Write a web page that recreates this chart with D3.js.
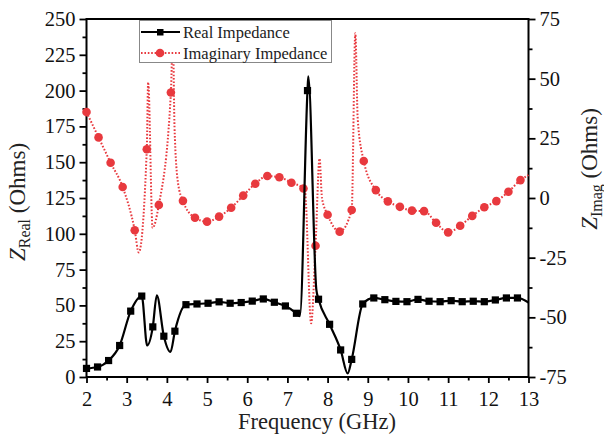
<!DOCTYPE html>
<html>
<head>
<meta charset="utf-8">
<script src="https://cdn.jsdelivr.net/npm/d3@7/dist/d3.min.js"></script>
<style>
  body { margin: 0; background: #fff; }
  svg { display: block; font-family: "Liberation Serif", "Times New Roman", serif; }
</style>
</head>
<body>
<div id="chart"></div>
<script>
// taille du svg et zone de tracé
const width = 604,
    height = 439,
    plot = { left: 86.5, right: 528.5, top: 19, bottom: 377 };

// Real impedance (Ohms) - markers every 0.275 GHz
const realFreq = [2.0, 2.275, 2.55, 2.825, 3.1, 3.375, 3.51, 3.65, 3.75, 3.925, 4.09, 4.2, 4.475, 4.75,
  5.025, 5.3, 5.575, 5.85, 6.125, 6.4, 6.675, 6.95, 7.225, 7.31, 7.5, 7.52, 7.72, 7.775, 8.05, 8.325,
  8.5, 8.6, 8.875, 9.15, 9.425, 9.7, 9.975, 10.25, 10.525, 10.8, 11.075, 11.35, 11.625, 11.9, 12.175,
  12.45, 12.725, 13.0];
const realZ = [6, 7, 11.5, 22, 46, 56.5, 22, 35, 57, 28.5, 17.5, 32, 50.5, 51,
  51.5, 52.5, 51.5, 52, 53, 54.5, 52.2, 49.6, 44.5, 42.5, 200, 210, 61, 54.3, 36.8, 18.9,
  2.5, 12.3, 51, 55.2, 54, 52.8, 52.6, 54.2, 52.9, 52.6, 53.3, 52.6, 52.9, 52.6, 53.8,
  55.2, 55.2, 52];
const realStep = 0.275;

// Imaginary impedance (Ohms) - markers every 0.3 GHz
const imagFreq = [2.0, 2.3, 2.6, 2.9, 3.2, 3.3, 3.5, 3.535, 3.645, 3.8, 4.1, 4.15, 4.19, 4.28, 4.4,
  4.7, 5.0, 5.3, 5.6, 5.9, 6.2, 6.5, 6.8, 7.1, 7.4, 7.44, 7.59, 7.7, 7.8, 7.86, 8.0, 8.3, 8.6,
  8.69, 8.75, 8.9, 9.2, 9.5, 9.8, 10.1, 10.4, 10.7, 11.0, 11.3, 11.6, 11.9, 12.2, 12.5, 12.8, 13.0];
const imagZ = [36, 25.4, 14.8, 4.6, -13.5, -22.8, 20.4, 48.5, -12.5, -2.9, 44.2, 68, 30, 6, -1.2,
  -8.3, -9.9, -7.8, -4.1, 1, 6, 9.2, 8.7, 6.4, 4.0, 2.5, -52.5, -20, 16.5, 0, -7, -14.1, -5,
  69, 33, 15.5, 3.3, -1.4, -3.7, -5.3, -5.5, -10.4, -14.4, -11.6, -7.5, -3.9, -1.3, 2.6, 7.5, 9.6];
const imagStep = 0.3;

const xTicks = d3.range(2, 14, 1);
const leftTicks = d3.range(0, 251, 25);
const rightTicks = d3.range(-75, 76, 25);

const red = "#e8393e";

const svg = d3.select("#chart")
  .append("svg")
  .attr("width", width)
  .attr("height", height);

const x = d3.scaleLinear().domain([2, 13]).range([plot.left, plot.right]);
const yL = d3.scaleLinear().domain([0, 250]).range([plot.bottom, plot.top]);
const yR = d3.scaleLinear().domain([-75, 75]).range([plot.bottom, plot.top]);

const onGrid = (f, step) => {
  const k = (f - 2) / step;
  return Math.abs(k - Math.round(k)) < 1e-6 && f < 13;
};

const realData = realFreq.map((f, i) => ({ f, v: realZ[i] }));
const imagData = imagFreq.map((f, i) => ({ f, v: imagZ[i] }));

// axes
function styleAxis(g) {
  g.select(".domain").remove();
  g.selectAll(".tick line").attr("stroke", "#000").attr("stroke-width", 1.8);
  g.selectAll(".tick text").attr("fill", "#111").style("font-size", "20.5px")
    .style("font-family", "Liberation Serif");
}

svg.append("g")
  .attr("transform", `translate(0,${plot.bottom})`)
  .call(d3.axisBottom(x).tickValues(xTicks).tickSize(6).tickPadding(8).tickFormat(d => String(d)))
  .call(styleAxis);
svg.append("g")
  .attr("transform", `translate(0,${plot.bottom})`)
  .call(d3.axisBottom(x).tickValues(d3.range(2.5, 13, 1)).tickSize(3.5).tickFormat(""))
  .call(styleAxis);

svg.append("g")
  .attr("transform", `translate(${plot.left},0)`)
  .call(d3.axisLeft(yL).tickValues(leftTicks).tickSize(7).tickPadding(4).tickFormat(d => String(d)))
  .call(styleAxis);
svg.append("g")
  .attr("transform", `translate(${plot.left},0)`)
  .call(d3.axisLeft(yL).tickValues(d3.range(12.5, 250, 25)).tickSize(4).tickFormat(""))
  .call(styleAxis);

svg.append("g")
  .attr("transform", `translate(${plot.right},0)`)
  .call(d3.axisRight(yR).tickValues(rightTicks).tickSize(7).tickPadding(4).tickFormat(d => String(d)))
  .call(styleAxis);
svg.append("g")
  .attr("transform", `translate(${plot.right},0)`)
  .call(d3.axisRight(yR).tickValues(d3.range(-62.5, 75, 25)).tickSize(4).tickFormat(""))
  .call(styleAxis);

// cadre
svg.append("rect")
  .attr("x", plot.left)
  .attr("y", plot.top)
  .attr("width", plot.right - plot.left)
  .attr("height", plot.bottom - plot.top)
  .attr("fill", "none")
  .attr("stroke", "#000")
  .attr("stroke-width", 2);

// courbes
const realLine = d3.line().x(d => x(d.f)).y(d => yL(d.v)).curve(d3.curveMonotoneX);
const imagLine = d3.line().x(d => x(d.f)).y(d => yR(d.v)).curve(d3.curveMonotoneX);

svg.append("path")
  .datum(imagData)
  .attr("d", imagLine)
  .attr("fill", "none")
  .attr("stroke", red)
  .attr("stroke-width", 2)
  .attr("stroke-dasharray", "1.6,1.8");

svg.append("g")
  .selectAll("circle")
  .data(imagData.filter(d => onGrid(d.f, imagStep)))
  .join("circle")
  .attr("cx", d => x(d.f))
  .attr("cy", d => yR(d.v))
  .attr("r", 4.3)
  .attr("fill", red);

svg.append("path")
  .datum(realData)
  .attr("d", realLine)
  .attr("fill", "none")
  .attr("stroke", "#000")
  .attr("stroke-width", 2.2);

svg.append("g")
  .selectAll("rect")
  .data(realData.filter(d => onGrid(d.f, realStep)))
  .join("rect")
  .attr("x", d => x(d.f) - 3.6)
  .attr("y", d => yL(d.v) - 3.6)
  .attr("width", 7.2)
  .attr("height", 7.2)
  .attr("fill", "#000");

// légende
const legend = svg.append("g");
legend.append("rect")
  .attr("x", 139.5).attr("y", 20.5)
  .attr("width", 192).attr("height", 42)
  .attr("fill", "#fff")
  .attr("stroke", "#888")
  .attr("stroke-width", 1);

legend.append("line")
  .attr("x1", 141).attr("x2", 180).attr("y1", 32).attr("y2", 32)
  .attr("stroke", "#000").attr("stroke-width", 2.2);
legend.append("rect")
  .attr("x", 157).attr("y", 29).attr("width", 6.5).attr("height", 6.5).attr("fill", "#000");
legend.append("line")
  .attr("x1", 141).attr("x2", 180).attr("y1", 53).attr("y2", 53)
  .attr("stroke", red).attr("stroke-width", 2).attr("stroke-dasharray", "1.6,1.8");
legend.append("circle")
  .attr("cx", 160).attr("cy", 53).attr("r", 4.3).attr("fill", red);

legend.append("text")
  .attr("x", 183).attr("y", 37.5)
  .style("font-size", "16.5px").attr("fill", "#222")
  .text("Real Impedance");
legend.append("text")
  .attr("x", 183).attr("y", 58.5)
  .style("font-size", "16.5px").attr("fill", "#222")
  .text("Imaginary Impedance");

// titres des axes
svg.append("text")
  .attr("x", 317)
  .attr("y", 429)
  .attr("text-anchor", "middle")
  .style("font-size", "22.5px").attr("fill", "#222")
  .text("Frequency (GHz)");

function yTitle(cx, cy, sub) {
  const t = svg.append("text")
    .attr("transform", `translate(${cx},${cy}) rotate(-90)`)
    .attr("text-anchor", "middle")
    .style("font-size", "23px").attr("fill", "#222");
  t.append("tspan").style("font-style", "italic").text("Z");
  t.append("tspan").attr("dy", 5).style("font-size", "16px").text(sub);
  t.append("tspan").attr("dy", -5).text(" (Ohms)");
}
yTitle(25, 202, "Real");
yTitle(597, 169, "Imag");
</script>
</body>
</html>
